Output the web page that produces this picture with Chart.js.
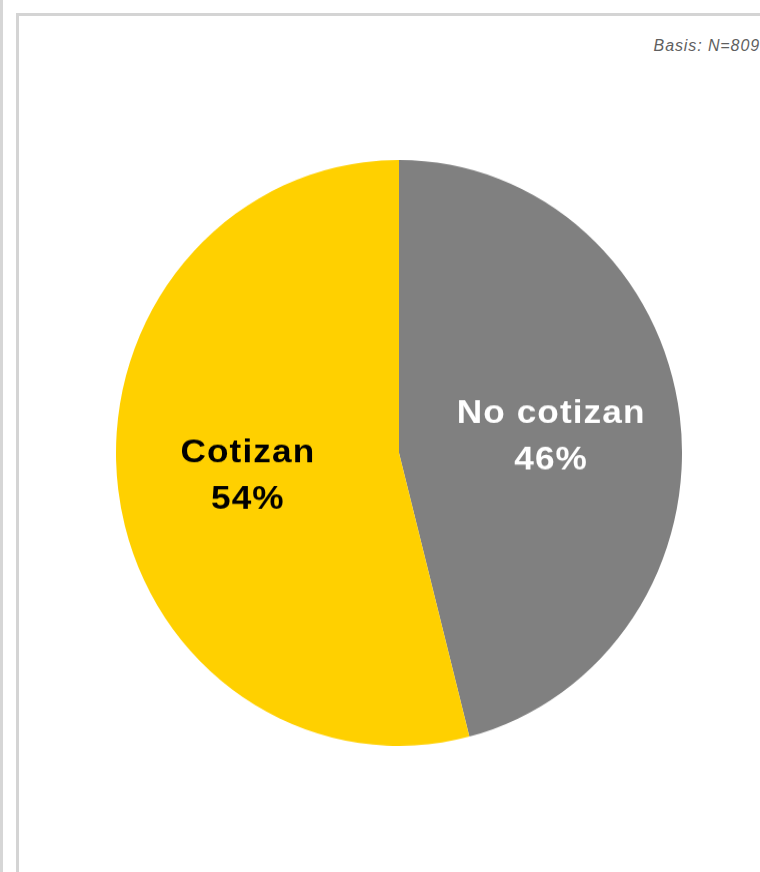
<!DOCTYPE html>
<html>
<head>
<meta charset="utf-8">
<script src="https://cdn.jsdelivr.net/npm/chart.js@4.4.0/dist/chart.umd.min.js"></script>
<style>
  body { margin: 0; width: 760px; height: 872px; background: #fff; overflow: hidden; position: relative; font-family: "Liberation Sans", Arial, sans-serif; }
  #edge { position: absolute; left: 0; top: 0; width: 3px; height: 872px; background: #d6d6d6; }
  #frame { position: absolute; left: 16px; top: 13px; width: 760px; height: 900px; border-left: 3px solid #d4d4d4; border-top: 3px solid #d4d4d4; box-sizing: border-box; }
  #basis { position: absolute; right: 0px; top: 37px; font-size: 16px; font-style: italic; color: #5f5f5f; letter-spacing: 0.9px; }
  #pie { position: absolute; left: 116px; top: 160px; width: 566px; height: 566px; transform: scaleY(1.035); transform-origin: top left; }
</style>
</head>
<body>
<div id="edge"></div>
<div id="frame"></div>
<div id="basis">Basis: N=809</div>
<div id="pie"><canvas id="chart-canvas"></canvas></div>
<script>
"use strict";

let categories = ["No cotizan", "Cotizan"];
let shares = [46, 54];
let sliceColors = ["#808080", "#FFD000"];
let labelColors = ["#ffffff", "#000000"];

// labels inside the slices, two lines: name and percent
let sliceLabels = {
  id: "sliceLabels",
  afterDatasetsDraw(chart) {
    let ctx = chart.ctx;
    let meta = chart.getDatasetMeta(0);
    for (let i = 0; i < meta.data.length; i++) {
      let arc = meta.data[i];
      let mid = (arc.startAngle + arc.endAngle) / 2;
      let r = arc.outerRadius * 0.54;
      let x = arc.x + Math.cos(mid) * r + 0.5;
      let y = arc.y + Math.sin(mid) * r - 10;
      ctx.save();
      ctx.translate(x, y);
      ctx.scale(1.1, 1);
      ctx.font = "bold 32px 'Liberation Sans', Arial, sans-serif";
      ctx.letterSpacing = "1px";
      ctx.textAlign = "center";
      ctx.textBaseline = "alphabetic";
      ctx.fillStyle = labelColors[i];
      ctx.fillText(categories[i], 0, 0);
      ctx.fillText(shares[i] + "%", 0, 45);
      ctx.restore();
    }
  }
};

let ctx = document.getElementById("chart-canvas");
let chart = new Chart(ctx, {
  type: "pie",
  data: {
    labels: categories,
    datasets: [
      {
        data: shares,
        backgroundColor: sliceColors,
        borderWidth: 0,
      },
    ],
  },
  options: {
    responsive: true,
    maintainAspectRatio: false,
    animation: false,
    layout: { padding: 0 },
    plugins: {
      legend: { display: false },
      tooltip: { enabled: false },
    },
  },
  plugins: [sliceLabels],
});
</script>
</body>
</html>
